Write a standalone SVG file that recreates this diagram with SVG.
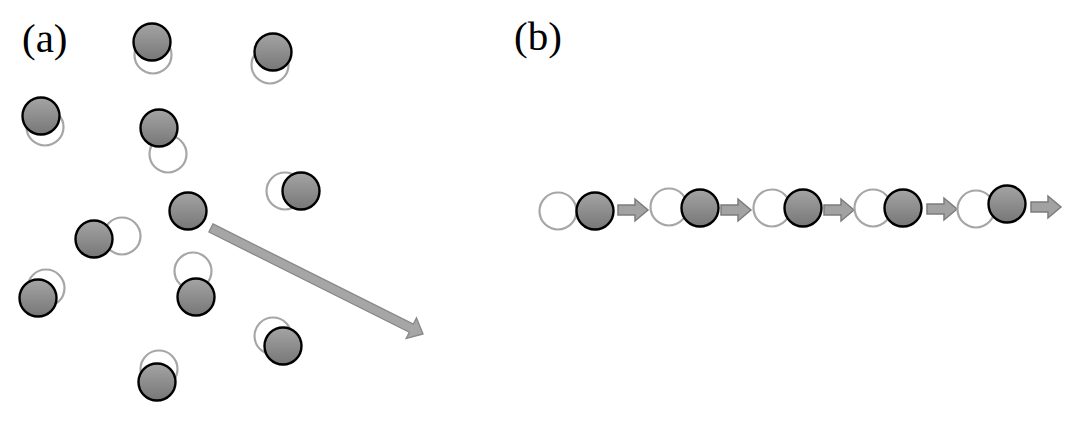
<svg xmlns="http://www.w3.org/2000/svg" width="1080" height="424" viewBox="0 0 1080 424">
<defs>
<linearGradient id="g" x1="0" y1="0" x2="0" y2="1">
<stop offset="0" stop-color="#a4a4a4"/>
<stop offset="1" stop-color="#777777"/>
</linearGradient>
<circle id="ghost" r="18.5" fill="#fff" stroke="#a6a6a6" stroke-width="2.2"/>
<circle id="ball" r="18.5" fill="url(#g)" stroke="#000" stroke-width="2.4"/>
<polygon id="sarrow" points="0,-5 17,-5 17,-11 30,0 17,11 17,5 0,5" fill="#a2a2a2" stroke="#7c7c7c" stroke-width="1.5"/>
</defs>
<style>
.lbl{font-family:"Liberation Serif","Times New Roman",serif;font-size:41px;fill:#000}
</style>
<rect width="1080" height="424" fill="#fff"/>
<text class="lbl" x="22" y="52">(a)</text>
<text class="lbl" x="514" y="50">(b)</text>
<g id="panel-a">
<g id="p1"><use href="#ghost" x="153" y="55"/><use href="#ball" x="152" y="42"/></g>
<g id="p2"><use href="#ghost" x="270" y="65"/><use href="#ball" x="273" y="52"/></g>
<g id="p3"><use href="#ghost" x="45" y="127"/><use href="#ball" x="41" y="116"/></g>
<g id="p4"><use href="#ghost" x="168" y="154"/><use href="#ball" x="159" y="128"/></g>
<g id="p5"><use href="#ghost" x="285" y="191"/><use href="#ball" x="301" y="191"/></g>
<g id="p6"><use href="#ball" x="188" y="211"/></g>
<g id="p7"><use href="#ghost" x="122" y="236"/><use href="#ball" x="94" y="239"/></g>
<g id="p8"><use href="#ghost" x="46" y="288"/><use href="#ball" x="38" y="298"/></g>
<g id="p9"><use href="#ghost" x="193" y="271"/><use href="#ball" x="196" y="297"/></g>
<g id="p10"><use href="#ghost" x="273" y="336"/><use href="#ball" x="283" y="346"/></g>
<g id="p11"><use href="#ghost" x="159" y="369"/><use href="#ball" x="157" y="382"/></g>
</g>
<g id="connectors">
<polygon points="0,-4.5 224,-4.5 224,-11.5 237,0 224,11.5 224,4.5 0,4.5" fill="#a6a6a6" stroke="#8a8a8a" stroke-width="1.4" transform="translate(211,228) rotate(26.57)"/>
<use href="#sarrow" x="618" y="210"/>
<use href="#sarrow" x="721" y="210"/>
<use href="#sarrow" x="824" y="210"/>
<use href="#sarrow" x="927" y="209"/>
<use href="#sarrow" x="1031" y="207"/>
</g>
<g id="panel-b">
<g id="b1"><use href="#ghost" x="558" y="211"/><use href="#ball" x="595" y="211"/></g>
<g id="b2"><use href="#ghost" x="669" y="207"/><use href="#ball" x="700" y="208"/></g>
<g id="b3"><use href="#ghost" x="772" y="208"/><use href="#ball" x="803" y="208"/></g>
<g id="b4"><use href="#ghost" x="873" y="208"/><use href="#ball" x="903" y="208"/></g>
<g id="b5"><use href="#ghost" x="976" y="209"/><use href="#ball" x="1007" y="204"/></g>
</g>
</svg>
